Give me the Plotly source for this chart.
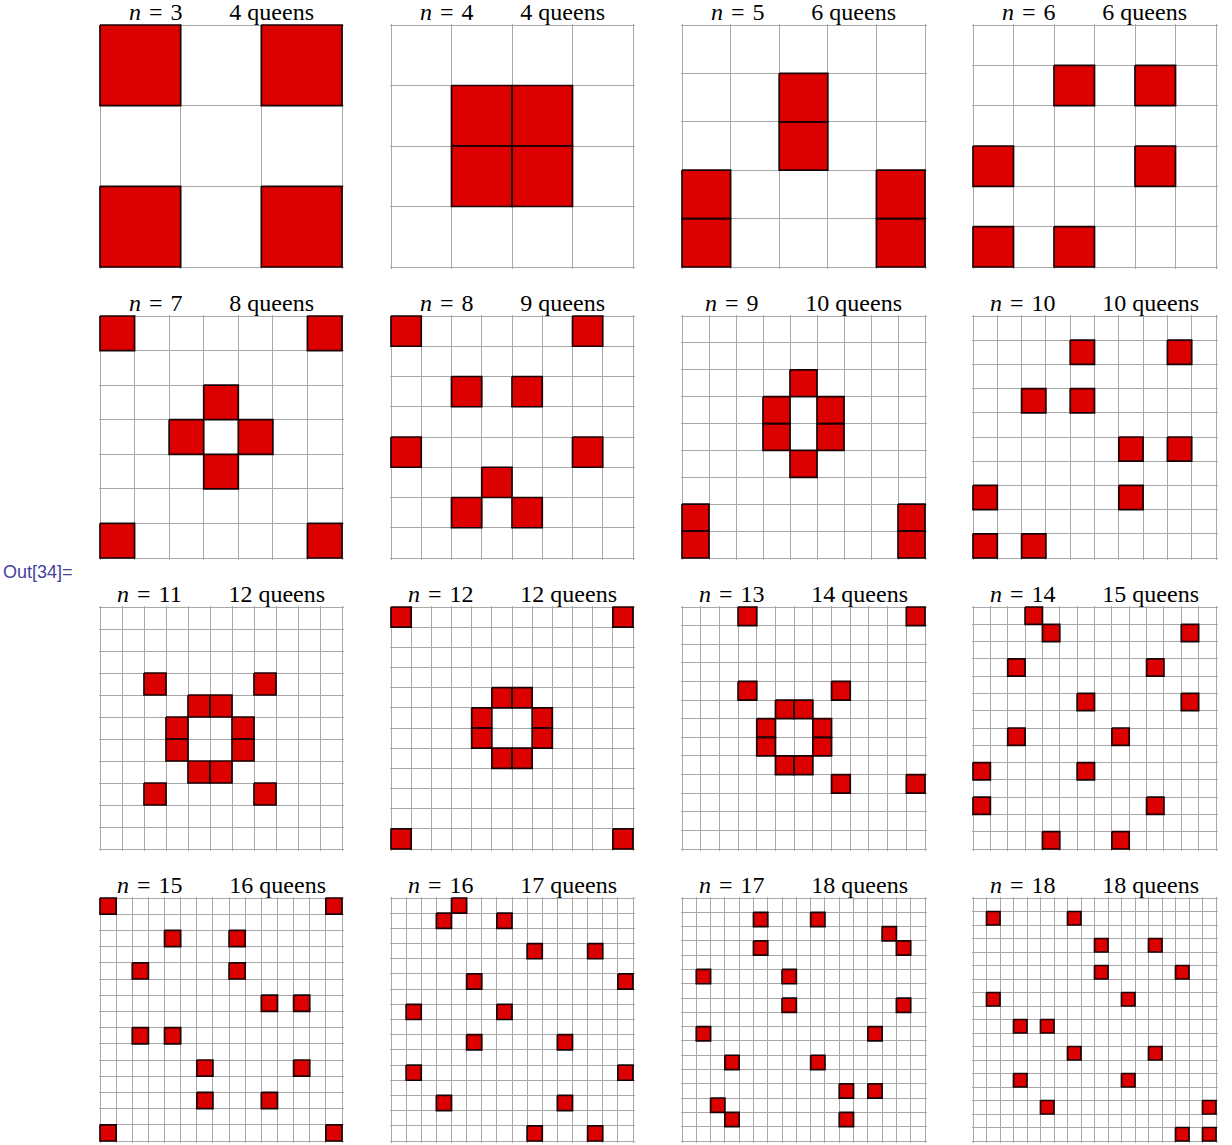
import plotly.graph_objects as go

# ---------------- data ----------------
BOARD_SIZES = [3, 4, 5, 6, 7, 8, 9, 10, 11, 12, 13, 14, 15, 16, 17, 18]

# queen cells as (row, col), row 0 = top, col 0 = left
Q3 = [(0, 0), (0, 2), (2, 0), (2, 2)]
Q4 = [(1, 1), (1, 2), (2, 1), (2, 2)]
Q5 = [(1, 2), (2, 2), (3, 0), (4, 0), (3, 4), (4, 4)]
Q6 = [(1, 2), (1, 4), (3, 0), (3, 4), (5, 0), (5, 2)]
Q7 = [(0, 0), (0, 6), (2, 3), (3, 2), (3, 4), (4, 3), (6, 0), (6, 6)]
Q8 = [(0, 0), (0, 6), (2, 2), (2, 4), (4, 0), (4, 6), (5, 3), (6, 2), (6, 4)]
Q9 = [(2, 4), (3, 3), (3, 5), (4, 3), (4, 5), (5, 4), (7, 0), (8, 0), (7, 8), (8, 8)]
Q10 = [(1, 4), (1, 8), (3, 2), (3, 4), (5, 6), (5, 8), (7, 0), (7, 6), (9, 0), (9, 2)]
Q11 = [(3, 2), (3, 7), (4, 4), (4, 5), (5, 3), (5, 6), (6, 3), (6, 6),
       (7, 4), (7, 5), (8, 2), (8, 7)]
Q12 = [(0, 0), (0, 11), (4, 5), (4, 6), (5, 4), (5, 7), (6, 4), (6, 7),
       (7, 5), (7, 6), (11, 0), (11, 11)]
Q13 = [(0, 3), (0, 12), (4, 3), (4, 8), (5, 5), (5, 6), (6, 4), (6, 7),
       (7, 4), (7, 7), (8, 5), (8, 6), (9, 8), (9, 12)]
Q14 = [(0, 3), (1, 4), (1, 12), (3, 2), (3, 10), (5, 6), (5, 12), (7, 2),
       (7, 8), (9, 0), (9, 6), (11, 0), (11, 10), (13, 4), (13, 8)]
Q15 = [(0, 0), (0, 14), (2, 4), (2, 8), (4, 2), (4, 8), (6, 10), (6, 12),
       (8, 2), (8, 4), (10, 6), (10, 12), (12, 6), (12, 10), (14, 0), (14, 14)]
Q16 = [(0, 4), (1, 3), (1, 7), (3, 9), (3, 13), (5, 5), (5, 15), (7, 1),
       (7, 7), (9, 5), (9, 11), (11, 1), (11, 15), (13, 3), (13, 11),
       (15, 9), (15, 13)]
Q17 = [(1, 5), (1, 9), (2, 14), (3, 5), (3, 15), (5, 1), (5, 7), (7, 7),
       (7, 15), (9, 1), (9, 13), (11, 3), (11, 9), (13, 11), (13, 13),
       (14, 2), (15, 3), (15, 11)]
Q18 = [(1, 1), (1, 7), (3, 9), (3, 13), (5, 9), (5, 15), (7, 1), (7, 11),
       (9, 3), (9, 5), (11, 7), (11, 13), (13, 3), (13, 11), (15, 5),
       (15, 17), (17, 15), (17, 17)]

QUEENS = [Q3, Q4, Q5, Q6, Q7, Q8, Q9, Q10, Q11, Q12, Q13, Q14, Q15, Q16, Q17, Q18]

OUT_LABEL = "Out[34]="

# ---------------- layout / style ----------------
W, H = 1232, 1145
COL_X = [(100, 342), (391, 633), (682, 925), (973, 1216)]
ROW_Y = [(25, 267), (316, 558), (607, 849), (898, 1141)]
PAD = 1.5  # px of padding so edge queen outlines are not clipped

RED = "#dc0000"
EDGE = "#1a0000"
GRID = "#a8a8a8"
SERIF = "Liberation Serif, Times New Roman, serif"

fig = go.Figure()
layout = dict(
    width=W, height=H,
    margin=dict(l=0, r=0, t=0, b=0),
    paper_bgcolor="white", plot_bgcolor="white",
    showlegend=False,
)
annotations = []

for idx, (n, q) in enumerate(zip(BOARD_SIZES, QUEENS)):
    r, c = divmod(idx, 4)
    k = idx + 1
    x0, x1 = COL_X[c]
    y0, y1 = ROW_Y[r]
    padx = PAD * n / (x1 - x0)
    pady = PAD * n / (y1 - y0)

    xs, ys = [], []
    for (row, col) in q:
        xs += [col, col + 1, col + 1, col, col, None]
        ys += [row, row, row + 1, row + 1, row, None]
    fig.add_trace(go.Scatter(
        x=xs, y=ys, mode="lines", fill="toself", fillcolor=RED,
        line=dict(color=EDGE, width=1.7),
        xaxis=f"x{k}", yaxis=f"y{k}", hoverinfo="skip",
    ))

    axcommon = dict(
        tick0=0, dtick=1, showgrid=True, gridcolor=GRID, gridwidth=1,
        showticklabels=False, ticks="", zeroline=False, showline=False,
        fixedrange=True,
    )
    layout[f"xaxis{k}"] = dict(
        domain=[(x0 - PAD) / W, (x1 + PAD) / W],
        range=[-padx, n + padx], anchor=f"y{k}", **axcommon)
    layout[f"yaxis{k}"] = dict(
        domain=[1 - (y1 + PAD) / H, 1 - (y0 - PAD) / H],
        range=[n + pady, -pady], anchor=f"x{k}", **axcommon)

    gap = "\u00a0" * 7 + "\u2009"
    sp = "\u2004"
    annotations.append(dict(
        text=f"<i>n</i>{sp}={sp}{n}{gap}{len(q)} queens",
        xref="paper", yref="paper",
        x=(x0 + x1) / 2 / W, y=1 - (y0 + 1) / H,
        xanchor="center", yanchor="bottom", showarrow=False,
        height=26, valign="middle", borderpad=0,
        font=dict(family=SERIF, size=24, color="black"),
    ))

annotations.append(dict(
    text=OUT_LABEL, xref="paper", yref="paper",
    x=1 / W, y=1 - 572 / H, xanchor="left", yanchor="middle",
    showarrow=False,
    font=dict(family="Liberation Sans, Arial, sans-serif", size=18, color="#43439b"),
))

layout["annotations"] = annotations
fig.update_layout(**layout)
fig.write_html("out.html",
               config={"displayModeBar": False},
               post_script="document.body.style.margin='0';")
